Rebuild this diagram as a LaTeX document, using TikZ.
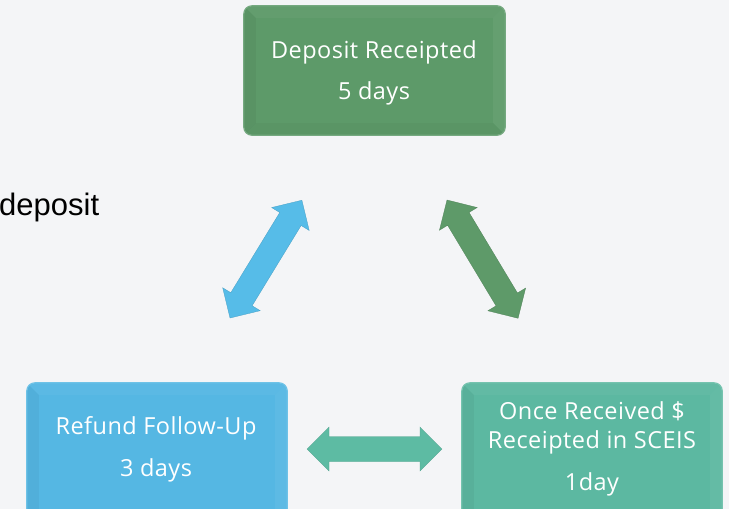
\documentclass[tikz,border=0pt]{standalone}
\usepackage{fontspec}
\setmainfont{Open Sans}[LetterSpace=2]
\newfontfamily\bodyfont{Liberation Sans}
\usetikzlibrary{calc}

\definecolor{pagebg}{HTML}{F4F5F7}
\definecolor{stepgreen}{HTML}{5D9A69}
\definecolor{stepblue}{HTML}{55B7E3}
\definecolor{stepteal}{HTML}{5CB8A1}
\definecolor{arrowblue}{HTML}{56BCE8}
\definecolor{arrowgreen}{HTML}{5E9A69}
\definecolor{arrowteal}{HTML}{5DBBA3}

\tikzset{
  panel/.style={rounded corners=8pt, inner sep=0pt, draw=none},
  paneltext/.style={text=white, font=\fontsize{23.5}{28}\selectfont, anchor=base, inner sep=0pt},
}

% bevelled step box: name, centre x, centre y, width, height, colour
\newcommand\bevelbox[6]{%
  \node[panel, fill=#6, minimum width=#4pt, minimum height=#5pt] (#1) at (#2,#3) {};
  \coordinate (#1-a) at ($(#1.north west)+(12,12)$);
  \coordinate (#1-b) at ($(#1.north east)+(-12,12)$);
  \coordinate (#1-c) at ($(#1.south east)+(-12,-12)$);
  \coordinate (#1-d) at ($(#1.south west)+(12,-12)$);
  \begin{scope}
    \clip[rounded corners=8pt] (#1.north west) rectangle (#1.south east);
    \fill[white, opacity=0.04] (#1.north west) -- (#1.north east) -- (#1-b) -- (#1-a) -- cycle;
    \fill[black, opacity=0.04] (#1.north west) -- (#1-a) -- (#1-d) -- (#1.south west) -- cycle;
    \fill[white, opacity=0.05] (#1.north east) -- (#1.south east) -- (#1-c) -- (#1-b) -- cycle;
    \fill[black, opacity=0.03] (#1.south west) -- (#1-d) -- (#1-c) -- (#1.south east) -- cycle;
  \end{scope}
  \draw[rounded corners=8pt, #6!85!white, line width=1.2pt] (#1.north west) rectangle (#1.south east);
}

% double-headed block arrow: name, tail x, tail y, angle, length, colour
\newcommand\blockarrow[6]{%
  \coordinate (#1-tail) at (#2,#3);
  \begin{scope}[shift={(#1-tail)}, rotate=#4]
    \coordinate (#1-head) at (#5,0);
    \fill[#6, draw=#6!85!black, line width=0.3pt, line join=miter]
      (#1-tail) -- (22,-22) -- (22,-12.5) -- (#5-22,-12.5) -- (#5-22,-22)
      -- (#1-head) -- (#5-22,22) -- (#5-22,12.5) -- (22,12.5) -- (22,22) -- cycle;
  \end{scope}
}

\begin{document}
\begin{tikzpicture}[x=1pt, y=-1pt]
  \fill[pagebg] (0,0) rectangle (729,509);
  \useasboundingbox (0,0) rectangle (729,509);
  \clip (0,0) rectangle (729,509);

  % partly visible body text on the left
  \node[anchor=base west, inner sep=0pt, font=\bodyfont\fontsize{31}{36}\selectfont, text=black]
    (bodytext) at (-1,215) {deposit};

  % the three steps
  \bevelbox{deposit}{374.5}{70.5}{261}{129}{stepgreen}
  \node[paneltext] (deposit-l1) at (374,58) {Deposit Receipted};
  \node[paneltext] (deposit-l2) at (374,99) {5 days};

  \bevelbox{refund}{157}{452}{260}{138}{stepblue}
  \node[paneltext] (refund-l1) at (156,434) {Refund Follow-Up};
  \node[paneltext] (refund-l2) at (156,476) {3 days};

  \bevelbox{sceis}{592}{452}{260}{138}{stepteal}
  \node[paneltext] (sceis-l1) at (592,419) {Once Received \$};
  \node[paneltext] (sceis-l2) at (592,448) {Receipted in SCEIS};
  \node[paneltext] (sceis-l3) at (592,490) {1day};

  % arrows between the steps
  \blockarrow{leftlink}{230}{318}{58.6}{138}{arrowblue}
  \blockarrow{rightlink}{447}{200}{-59}{138}{arrowgreen}
  \blockarrow{bottomlink}{307}{449}{0}{135}{arrowteal}
\end{tikzpicture}
\end{document}
